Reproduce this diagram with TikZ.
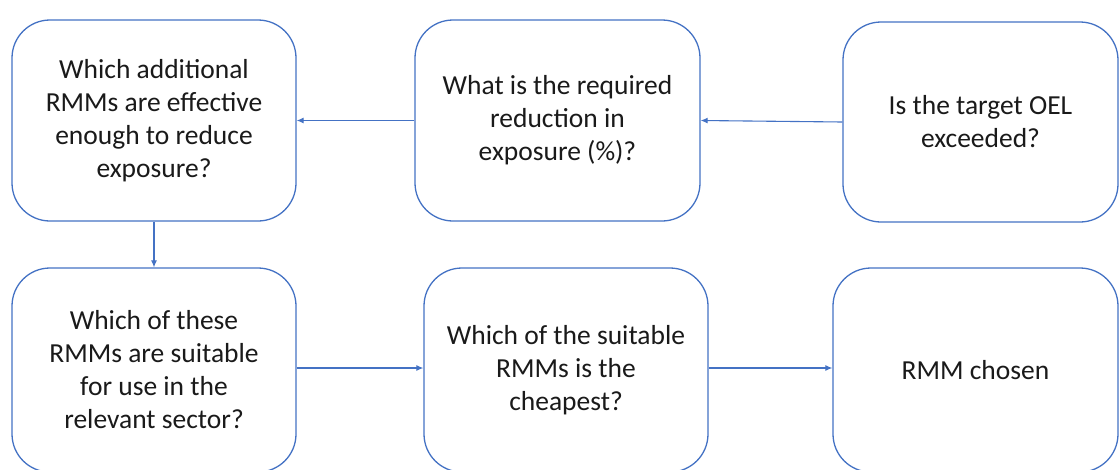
\documentclass[tikz,border=0pt]{standalone}
\usepackage{fontspec}
\setmainfont{Carlito}
\usetikzlibrary{arrows.meta}
\definecolor{boxblue}{HTML}{4472C4}
\definecolor{txt}{HTML}{1A1A1A}
\tikzset{
  qbox/.style={draw=boxblue, line width=1.3pt, rounded corners=38pt, fill=white,
    minimum width=#1, minimum height=201pt, inner sep=0pt, align=center,
    font=\fontsize{27.5}{33}\selectfont, text=txt},
  conn/.style={draw=boxblue, line width=1.1pt, -{Latex[length=7pt,width=6pt]}}
}
\begin{document}
\begin{tikzpicture}[x=1pt,y=-1pt]
\useasboundingbox (0,0) rectangle (1120,469);
\clip (0,0) rectangle (1120,469);
\node[qbox=284pt] (b1) at (154,120.5) {Which additional\\RMMs are effective\\enough to reduce\\exposure?};
\node[qbox=285pt] (b2) at (557.5,120.5) {What is the required\\reduction in\\exposure (\%)?};
\node[qbox=275pt, minimum height=200pt] (b3) at (980.5,122) {Is the target OEL\\exceeded?};
\node[qbox=284pt, minimum height=204pt] (b4) at (154,370) {Which of these\\RMMs are suitable\\for use in the\\relevant sector?};
\node[qbox=284pt, minimum height=204pt] (b5) at (566,370) {Which of the suitable\\RMMs is the\\cheapest?};
\node[qbox=285pt, minimum height=204pt] (b6) at (975.5,370) {RMM chosen};
\draw[conn] (b2.west) -- (b1.east);
\draw[conn] (b3.west) -- (b2.east);
\draw[conn] (b1.south) -- (b4.north);
\draw[conn] (b4.east |- 0,368) -- (b5.west |- 0,368);
\draw[conn] (b5.east |- 0,368) -- (b6.west |- 0,368);
\end{tikzpicture}
\end{document}
